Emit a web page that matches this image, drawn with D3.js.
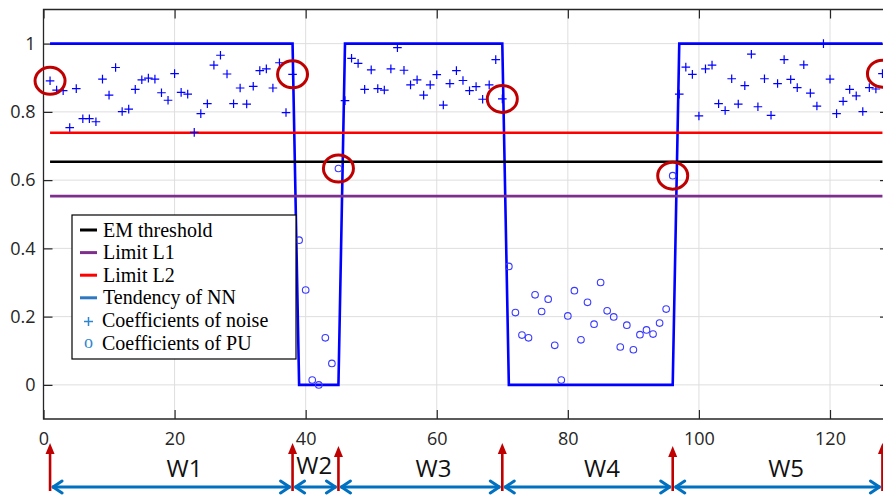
<!DOCTYPE html>
<html>
<head>
<meta charset="utf-8">
<script src="https://cdn.jsdelivr.net/npm/d3@7"></script>
<style>
  html, body { margin: 0; padding: 0; background: #fff; }
  svg { display: block; }
</style>
</head>
<body>
<svg id="chart" width="883" height="495"></svg>
<script>
// ---------------- DATA ----------------
const xTicks = [0, 20, 40, 60, 80, 100, 120];
const yTicks = [0, 0.2, 0.4, 0.6, 0.8, 1];

// Tendency of NN (step line)
const tendencyX = [1, 38, 39, 45, 46, 70, 71, 96, 97, 128];
const tendencyY = [1, 1, 0, 0, 1, 1, 0, 0, 1, 1];

// Horizontal reference levels
const emThreshold = 0.654;
const limitL1 = 0.553;
const limitL2 = 0.739;

// Coefficients of noise (x = 1..38, 46..70, 97..128)
const noiseX = [...d3.range(1, 39), ...d3.range(46, 71), ...d3.range(97, 129)];
const noiseY = [
  0.891, 0.864, 0.862, 0.754, 0.868, 0.780, 0.780, 0.771, 0.896, 0.849,
  0.930, 0.801, 0.808, 0.866, 0.894, 0.899, 0.896, 0.856, 0.834, 0.912,
  0.857, 0.852, 0.740, 0.795, 0.824, 0.937, 0.966, 0.911, 0.824, 0.870,
  0.823, 0.875, 0.921, 0.926, 0.870, 0.944, 0.798, 0.910,
  0.833, 0.957, 0.942, 0.866, 0.923, 0.868, 0.864, 0.926, 0.988, 0.922,
  0.879, 0.894, 0.849, 0.879, 0.909, 0.820, 0.883, 0.921, 0.892, 0.862,
  0.874, 0.837, 0.879, 0.953, 0.838,
  0.852, 0.931, 0.910, 0.788, 0.926, 0.937, 0.824, 0.804, 0.897, 0.823,
  0.877, 0.969, 0.815, 0.897, 0.790, 0.883, 0.953, 0.895, 0.871, 0.938,
  0.855, 0.817, 1.000, 0.896, 0.795, 0.831, 0.866, 0.847, 0.801, 0.871,
  0.867, 0.912
];

// Coefficients of PU (x = 39..45, 71..96)
const puX = [...d3.range(39, 46), ...d3.range(71, 97)];
const puY = [
  0.424, 0.278, 0.014, 0.000, 0.138, 0.063, 0.634,
  0.347, 0.212, 0.146, 0.138, 0.264, 0.215, 0.251, 0.116, 0.014, 0.202,
  0.276, 0.132, 0.242, 0.178, 0.300, 0.217, 0.199, 0.111, 0.175, 0.103,
  0.147, 0.161, 0.149, 0.181, 0.222, 0.613
];

// Window boundaries (highlighted points) and window labels
const boundaries = [1, 38, 45, 70, 96, 128];
const windowLabels = ["W1", "W2", "W3", "W4", "W5"];
const windowLabelX = [21.5, 41.3, 59.5, 85.2, 113.3];

const legendLabels = ["EM threshold", "Limit L1", "Limit L2", "Tendency of NN",
                      "Coefficients of noise", "Coefficients of PU"];

// ---------------- CHART ----------------
const svg = d3.select("#chart");
svg.append("rect").attr("width", 883).attr("height", 495).attr("fill", "#fff");

const pL = 43.5, pR = 889, pT = 9.5, pB = 419;
const x = d3.scaleLinear().domain([0, 129]).range([pL, pR]);
const y = d3.scaleLinear().domain([-0.1, 1.1]).range([pB, pT]);

const axisColor = "#262626";
const tickFont = "'Open Sans', sans-serif";

// grid
const grid = svg.append("g");
grid.selectAll(".gx").data(xTicks).join("line")
  .attr("x1", d => x(d)).attr("x2", d => x(d))
  .attr("y1", pT).attr("y2", pB)
  .attr("stroke", "#dedede").attr("stroke-width", 1);
grid.selectAll(".gy").data(yTicks).join("line")
  .attr("x1", pL).attr("x2", pR)
  .attr("y1", d => y(d)).attr("y2", d => y(d))
  .attr("stroke", "#dedede").attr("stroke-width", 1);

// axes
function styleAxis(g) {
  g.select(".domain").remove();
  g.selectAll(".tick line").attr("stroke", axisColor).attr("stroke-width", 1.2);
  g.selectAll(".tick text").attr("fill", axisColor)
    .style("font-family", tickFont).style("font-size", "18px");
}
svg.append("g").attr("transform", `translate(0,${pB})`)
  .call(d3.axisBottom(x).tickValues(xTicks).tickSize(-9).tickSizeOuter(0).tickPadding(13).tickFormat(d3.format("d")))
  .call(styleAxis);
svg.append("g").attr("transform", `translate(0,${pT})`)
  .call(d3.axisTop(x).tickValues(xTicks).tickSize(-9).tickSizeOuter(0).tickFormat(""))
  .call(styleAxis);
svg.append("g").attr("transform", `translate(${pL},0)`)
  .call(d3.axisLeft(y).tickValues(yTicks).tickSize(-9).tickSizeOuter(0).tickPadding(8).tickFormat(d => d3.format("~g")(d)))
  .call(styleAxis);
svg.append("g").attr("transform", `translate(${pR},0)`)
  .call(d3.axisRight(y).tickValues(yTicks).tickSize(-9).tickSizeOuter(0).tickFormat(""))
  .call(styleAxis);

// box
svg.append("path")
  .attr("d", `M${pL},${pT}H${pR}V${pB}H${pL}Z`)
  .attr("fill", "none").attr("stroke", axisColor).attr("stroke-width", 1.3);

// tendency line
const line = d3.line().x(d => x(d[0])).y(d => y(d[1]));
svg.append("path")
  .datum(tendencyX.map((v, i) => [v, tendencyY[i]]))
  .attr("d", line).attr("fill", "none")
  .attr("stroke", "#0000ff").attr("stroke-width", 2.6).attr("stroke-linejoin", "miter");

// horizontal levels
const levels = [
  { v: limitL2, c: "#ff0000" },
  { v: emThreshold, c: "#000000" },
  { v: limitL1, c: "#7e2f8e" }
];
svg.selectAll(".lvl").data(levels).join("line")
  .attr("x1", x(1)).attr("x2", x(128))
  .attr("y1", d => y(d.v)).attr("y2", d => y(d.v))
  .attr("stroke", d => d.c).attr("stroke-width", 2.6);

// noise markers
svg.selectAll(".noise").data(noiseX.map((v, i) => [v, noiseY[i]])).join("path")
  .attr("transform", d => `translate(${x(d[0])},${y(d[1])})`)
  .attr("d", "M-4.3,0H4.3M0,-4.3V4.3")
  .attr("stroke", "#0000ff").attr("stroke-width", 1.2).attr("fill", "none");

// PU markers
svg.selectAll(".pu").data(puX.map((v, i) => [v, puY[i]])).join("circle")
  .attr("cx", d => x(d[0])).attr("cy", d => y(d[1])).attr("r", 3.3)
  .attr("fill", "none").attr("stroke", "#3a3aff").attr("stroke-width", 1.1);

// highlighted points (red circles)
const valueAt = b => {
  const i = noiseX.indexOf(b);
  return i >= 0 ? noiseY[i] : puY[puX.indexOf(b)];
};
svg.selectAll(".hl").data(boundaries).join("ellipse")
  .attr("cx", d => x(d)).attr("cy", d => y(valueAt(d)))
  .attr("rx", 15).attr("ry", 13.5)
  .attr("fill", "none").attr("stroke", "#c00000").attr("stroke-width", 3);

// legend
const lg = svg.append("g");
lg.append("rect").attr("x", 72).attr("y", 215).attr("width", 224).attr("height", 144)
  .attr("fill", "#fff").attr("stroke", "#000").attr("stroke-width", 1.2);
const legendColors = ["#000000", "#7e2f8e", "#ff0000", "#2f77c0"];
legendLabels.forEach((t, i) => {
  const cy = 230 + i * 22.6;
  if (i < 4) {
    lg.append("line").attr("x1", 80).attr("x2", 97).attr("y1", cy).attr("y2", cy)
      .attr("stroke", legendColors[i]).attr("stroke-width", 3);
  } else if (i === 4) {
    lg.append("path").attr("transform", `translate(88.5,${cy + 1})`)
      .attr("d", "M-4.5,0H4.5M0,-4.5V4.5").attr("stroke", "#2f86d0").attr("stroke-width", 1.5);
  } else {
    lg.append("text").attr("x", 88.5).attr("y", cy + 5).attr("text-anchor", "middle")
      .style("font-family", "'Liberation Serif', serif").style("font-size", "18px")
      .attr("fill", "#2f86d0").text("o");
  }
  lg.append("text").attr("x", i >= 4 ? 102 : 103).attr("y", cy + 6.5)
    .style("font-family", "'Liberation Serif', serif").style("font-size", "20px")
    .attr("fill", "#000").text(t);
});

// window annotations below axis
const ann = svg.append("g");
const blue = "#0070c0", red = "#c00000";
const arrowY = 487;
for (let i = 0; i < boundaries.length - 1; i++) {
  const x1 = x(boundaries[i]) + 2, x2 = x(boundaries[i + 1]) - 2;
  ann.append("line").attr("x1", x1).attr("x2", x2).attr("y1", arrowY).attr("y2", arrowY)
    .attr("stroke", blue).attr("stroke-width", 3);
  ann.append("path")
    .attr("d", `M${x1 + 10},${arrowY - 6}L${x1 + 1},${arrowY}L${x1 + 10},${arrowY + 6}` +
               `M${x2 - 10},${arrowY - 6}L${x2 - 1},${arrowY}L${x2 - 10},${arrowY + 6}`)
    .attr("fill", "none").attr("stroke", blue).attr("stroke-width", 3)
    .attr("stroke-linecap", "round").attr("stroke-linejoin", "round");
}
boundaries.forEach((b, i) => {
  const bx = x(b);
  const topY = (i === 2 || i === 4) ? 446 : 443;
  ann.append("line").attr("x1", bx).attr("x2", bx).attr("y1", 491).attr("y2", topY + 8)
    .attr("stroke", red).attr("stroke-width", 2.6);
  ann.append("path").attr("d", `M${bx},${topY}L${bx - 4.5},${topY + 11}L${bx + 4.5},${topY + 11}Z`)
    .attr("fill", red);
});
ann.selectAll(".wl").data(windowLabels).join("text")
  .attr("x", (d, i) => x(windowLabelX[i]))
  .attr("y", (d, i) => i === 1 ? 474 : 477)
  .attr("text-anchor", "middle")
  .style("font-family", tickFont).style("font-size", "24px")
  .attr("fill", "#111").text(d => d);
</script>
</body>
</html>
